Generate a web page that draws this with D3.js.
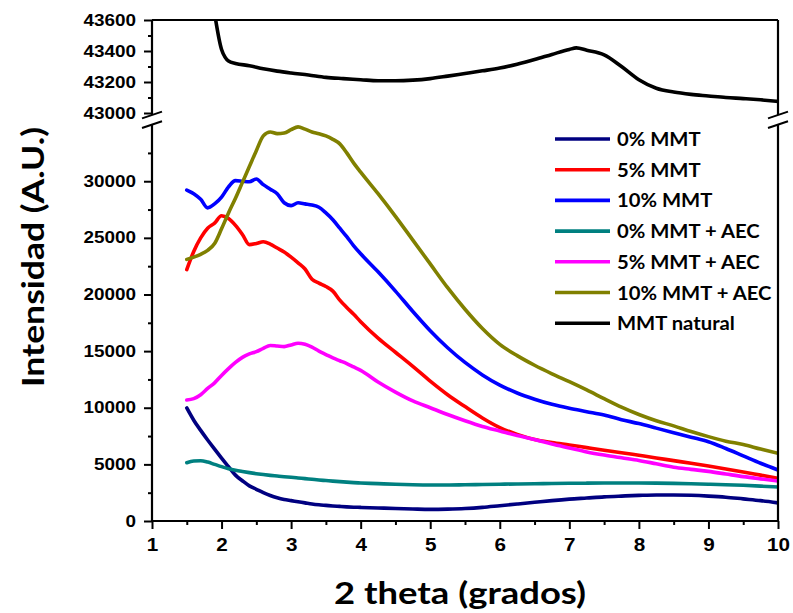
<!DOCTYPE html>
<html>
<head>
<meta charset="utf-8">
<script src="https://cdn.jsdelivr.net/npm/d3@7"></script>
<style>
  body { margin: 0; background: #fff; }
  svg { display: block; }
</style>
</head>
<body>
<svg id="chart" width="793" height="613"></svg>
<script>
// 2-theta grid shared by the composite samples (degrees)
const twoTheta = [1.5, 1.6, 1.7, 1.8, 1.9, 2.0, 2.1, 2.2, 2.3, 2.4, 2.5, 2.6, 2.7, 2.8, 2.9,
  3.0, 3.1, 3.2, 3.3, 3.4, 3.5, 3.6, 3.7, 3.8, 3.9, 4.0, 4.25, 4.5, 4.75, 5.0, 5.25, 5.5,
  5.75, 6.0, 6.25, 6.5, 6.75, 7.0, 7.25, 7.5, 7.75, 8.0, 8.25, 8.5, 8.75, 9.0, 9.25, 9.5, 9.75, 10.0];

// Intensities (A.U.) for each sample on the grid above
const mmt0 = [9980, 8900, 8000, 7150, 6350, 5550, 4800, 4050, 3550, 3100, 2800, 2500, 2250, 2050, 1900,
  1800, 1700, 1600, 1500, 1430, 1380, 1330, 1290, 1250, 1220, 1200, 1150, 1100, 1060, 1030, 1050, 1100,
  1200, 1350, 1500, 1650, 1800, 1930, 2030, 2130, 2200, 2260, 2300, 2300, 2270, 2200, 2100, 1950, 1800, 1600];
const mmt5 = [22200, 23800, 25000, 25850, 26300, 26950, 26700, 26100, 25300, 24400, 24500, 24650, 24450, 24100, 23750,
  23300, 22800, 22250, 21350, 21000, 20700, 20300, 19500, 18850, 18250, 17600, 16150, 14900, 13650, 12350, 11150, 10100,
  9100, 8250, 7650, 7200, 6930, 6710, 6480, 6250, 6030, 5800, 5570, 5330, 5100, 4860, 4600, 4330, 4050, 3770];
const mmt10 = [29220, 28900, 28400, 27650, 28000, 28600, 29500, 30050, 30000, 29950, 30200, 29700, 29300, 28900, 28100,
  27850, 28100, 28000, 27900, 27700, 27200, 26600, 25850, 25100, 24300, 23600, 22000, 20300, 18500, 16800, 15300, 14000,
  12900, 12000, 11300, 10750, 10300, 9950, 9650, 9350, 8950, 8600, 8200, 7800, 7400, 7000, 6400, 5750, 5100, 4500];
const mmt0Aec = [5150, 5300, 5320, 5200, 5000, 4800, 4620, 4480, 4370, 4270, 4180, 4100, 4030, 3970, 3910,
  3860, 3800, 3740, 3680, 3620, 3570, 3520, 3480, 3430, 3390, 3360, 3300, 3240, 3200, 3180, 3180, 3200,
  3220, 3250, 3270, 3290, 3310, 3330, 3340, 3350, 3350, 3350, 3340, 3320, 3290, 3250, 3200, 3150, 3080, 3000];
const mmt5Aec = [10680, 10800, 11150, 11700, 12200, 12850, 13450, 14000, 14450, 14750, 14950, 15250, 15500, 15450, 15400,
  15550, 15700, 15600, 15350, 15000, 14700, 14400, 14150, 13900, 13600, 13300, 12270, 11380, 10600, 10000, 9400, 8850,
  8350, 7950, 7550, 7200, 6800, 6450, 6100, 5820, 5580, 5350, 5050, 4750, 4560, 4380, 4150, 3920, 3720, 3530];
const mmt10Aec = [23100, 23300, 23550, 23900, 24500, 25800, 27200, 28500, 29900, 31300, 32700, 34000, 34350, 34200, 34250,
  34550, 34800, 34600, 34350, 34200, 34000, 33700, 33300, 32500, 31600, 30800, 28900, 26900, 24800, 22700, 20600, 18700,
  17000, 15600, 14600, 13750, 13000, 12300, 11570, 10800, 10050, 9400, 8850, 8400, 7900, 7450, 7050, 6750, 6350, 5980];

// Natural montmorillonite, plotted on the upper (broken) segment
const naturalTheta = [1.88, 2.0, 2.05, 2.1, 2.2, 2.4, 2.6, 2.8, 3.0, 3.25, 3.5, 3.75, 4.0, 4.25, 4.5, 4.75,
  5.0, 5.25, 5.5, 5.75, 6.0, 6.25, 6.5, 6.75, 7.0, 7.1, 7.25, 7.5, 7.75, 8.0, 8.25, 8.5, 8.75, 9.0, 9.25, 9.5, 9.75, 10.0];
const mmtNatural = [43700, 43410, 43360, 43335, 43320, 43305, 43285, 43270, 43258, 43245, 43230, 43222, 43215, 43208, 43208, 43212,
  43222, 43238, 43255, 43272, 43290, 43315, 43345, 43378, 43410, 43420, 43405, 43375, 43300, 43215, 43160, 43135, 43120, 43110, 43100, 43093, 43085, 43075];

const seriesNames = ["0% MMT", "5% MMT", "10% MMT", "0% MMT + AEC", "5% MMT + AEC", "10% MMT + AEC", "MMT natural"];
const seriesColors = ["#000080", "#ff0000", "#0000ff", "#008080", "#ff00ff", "#808000", "#000000"];

const xTicks = [1, 2, 3, 4, 5, 6, 7, 8, 9, 10];
const xMinorTicks = [1.5, 2.5, 3.5, 4.5, 5.5, 6.5, 7.5, 8.5, 9.5];
const yLowTicks = [0, 5000, 10000, 15000, 20000, 25000, 30000];
const yLowMinorTicks = [2500, 7500, 12500, 17500, 22500, 27500, 32500];
const yUpTicks = [43000, 43200, 43400, 43600];
const yUpMinorTicks = [43100, 43300, 43500];

const svg = d3.select("#chart");
const pLeft = 152, pRight = 778, pTop = 20, pBottom = 521;

const x = d3.scaleLinear().domain([1, 10]).range([pLeft, pRight]);
const yLow = d3.scaleLinear().domain([0, 35000]).range([pBottom, 124.6]);
const yUp = d3.scaleLinear().domain([43000, 43600]).range([113, pTop]);

const tickFont = "'Liberation Sans', Arial, sans-serif";
const titleFont = "Lato, 'Open Sans', sans-serif";

// clip regions for the two segments
const defs = svg.append("defs");
defs.append("clipPath").attr("id", "clipLow").append("rect")
  .attr("x", pLeft).attr("y", yLow(35000)).attr("width", pRight - pLeft).attr("height", pBottom - yLow(35000));
defs.append("clipPath").attr("id", "clipUp").append("rect")
  .attr("x", pLeft).attr("y", pTop).attr("width", pRight - pLeft).attr("height", yUp(43000) - pTop);

// data lines
const lowSeries = [mmt0, mmt5, mmt10, mmt0Aec, mmt5Aec, mmt10Aec];
const lineLow = d3.line().x((d, i) => x(twoTheta[i])).y(d => yLow(d)).curve(d3.curveMonotoneX);
const gLow = svg.append("g").attr("clip-path", "url(#clipLow)");
lowSeries.forEach((vals, k) => {
  gLow.append("path").datum(vals)
    .attr("d", lineLow)
    .attr("fill", "none")
    .attr("stroke", seriesColors[k])
    .attr("stroke-width", 3.6)
    .attr("stroke-linejoin", "round")
    .attr("stroke-linecap", "round");
});
const lineUp = d3.line().x((d, i) => x(naturalTheta[i])).y(d => yUp(d)).curve(d3.curveMonotoneX);
svg.append("g").attr("clip-path", "url(#clipUp)")
  .append("path").datum(mmtNatural)
  .attr("d", lineUp)
  .attr("fill", "none")
  .attr("stroke", seriesColors[6])
  .attr("stroke-width", 3.6)
  .attr("stroke-linejoin", "round");

// axes
function styleAxis(g, fontSize, labelWidth) {
  g.select(".domain").remove();
  g.selectAll(".tick line").attr("stroke", "#000").attr("stroke-width", 2);
  g.selectAll(".tick text")
    .attr("fill", "#000")
    .style("font-family", tickFont)
    .style("font-weight", "bold")
    .style("font-size", fontSize + "px")
    .attr("lengthAdjust", "spacingAndGlyphs")
    .attr("textLength", function () { return this.textContent.length * labelWidth; });
}

const fmt = d3.format("d");
svg.append("g").attr("transform", `translate(${pLeft},0)`)
  .call(d3.axisLeft(yLow).tickValues(yLowTicks).tickFormat(fmt).tickSize(8).tickPadding(8))
  .call(g => styleAxis(g, 16, 10.5));
svg.append("g").attr("transform", `translate(${pLeft},0)`)
  .call(d3.axisLeft(yLow).tickValues(yLowMinorTicks).tickFormat("").tickSize(4))
  .call(g => styleAxis(g, 16, 10.5));
svg.append("g").attr("transform", `translate(${pLeft},0)`)
  .call(d3.axisLeft(yUp).tickValues(yUpTicks).tickFormat(fmt).tickSize(8).tickPadding(8))
  .call(g => styleAxis(g, 16, 10.5));
svg.append("g").attr("transform", `translate(${pLeft},0)`)
  .call(d3.axisLeft(yUp).tickValues(yUpMinorTicks).tickFormat("").tickSize(4))
  .call(g => styleAxis(g, 16, 10.5));
svg.append("g").attr("transform", `translate(0,${pBottom})`)
  .call(d3.axisBottom(x).tickValues(xTicks).tickFormat(fmt).tickSize(8).tickPadding(9))
  .call(g => styleAxis(g, 18, 11.5));
svg.append("g").attr("transform", `translate(0,${pBottom})`)
  .call(d3.axisBottom(x).tickValues(xMinorTicks).tickFormat("").tickSize(4))
  .call(g => styleAxis(g, 18, 11.5));

// frame lines with the break gap on both verticals
const frame = svg.append("g").attr("stroke", "#000").attr("stroke-width", 2.2).attr("fill", "none");
const upEnd = yUp(43000) + 2, lowStart = yLow(35000);
[pLeft, pRight].forEach(xx => {
  frame.append("line").attr("x1", xx).attr("x2", xx).attr("y1", pTop).attr("y2", upEnd);
  frame.append("line").attr("x1", xx).attr("x2", xx).attr("y1", lowStart).attr("y2", pBottom);
  // break marks
  [upEnd, lowStart].forEach(yy => {
    frame.append("line")
      .attr("x1", xx - 10).attr("y1", yy + 3.4)
      .attr("x2", xx + 10).attr("y2", yy - 3.4)
      .attr("stroke-width", 2);
  });
});
frame.append("line").attr("x1", pLeft).attr("x2", pRight).attr("y1", pTop).attr("y2", pTop);
frame.append("line").attr("x1", pLeft - 1).attr("x2", pRight + 1).attr("y1", pBottom).attr("y2", pBottom);

// axis titles
svg.append("text")
  .attr("transform", `translate(44,257) rotate(-90)`)
  .attr("text-anchor", "middle")
  .attr("textLength", 260).attr("lengthAdjust", "spacingAndGlyphs")
  .style("font-family", titleFont).style("font-weight", "bold").style("font-size", "30px")
  .text("Intensidad (A.U.)");
svg.append("text")
  .attr("x", 460).attr("y", 604)
  .attr("text-anchor", "middle")
  .attr("textLength", 252).attr("lengthAdjust", "spacingAndGlyphs")
  .style("font-family", titleFont).style("font-weight", "bold").style("font-size", "30px")
  .text("2 theta (grados)");

// legend
const legend = svg.append("g");
seriesNames.forEach((name, i) => {
  const yy = 139 + i * 30.7;
  legend.append("line")
    .attr("x1", 555).attr("x2", 610).attr("y1", yy).attr("y2", yy)
    .attr("stroke", seriesColors[i]).attr("stroke-width", 3.6);
  const t = legend.append("text")
    .attr("x", 617).attr("y", yy + 7)
    .style("font-family", titleFont).style("font-weight", "bold").style("font-size", "19px")
    .text(name);
  const natural = t.node().getComputedTextLength();
  t.attr("textLength", natural * 1.065).attr("lengthAdjust", "spacingAndGlyphs");
});
</script>
</body>
</html>
